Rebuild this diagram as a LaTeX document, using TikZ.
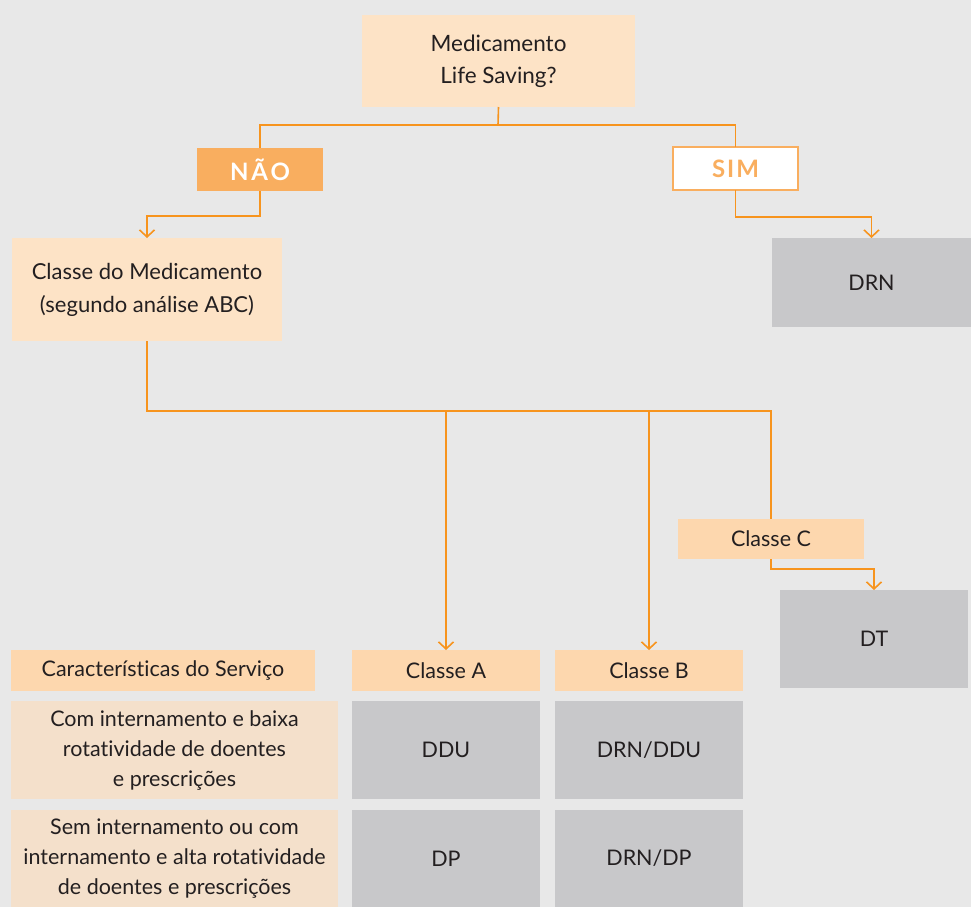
\documentclass[tikz,border=0pt]{standalone}
\usepackage{fontspec}
\setmainfont{Lato}[Ligatures={NoCommon}]
\usetikzlibrary{arrows.meta}
\definecolor{bg}{HTML}{E8E8E8}
\definecolor{ln}{HTML}{F7941E}
\definecolor{peachA}{HTML}{FDE3C6}
\definecolor{peachB}{HTML}{FDD7AE}
\definecolor{beige}{HTML}{F4E0CB}
\definecolor{naof}{HTML}{F9AE5F}
\definecolor{grayc}{HTML}{C8C8CA}
\definecolor{txt}{HTML}{231F20}
\tikzset{
  base/.style={anchor=north west, inner sep=2pt, outer sep=0pt, align=center, text=txt,
    font=\fontsize{21.5}{30}\selectfont},
  lightbox/.style={base, fill=peachA},
  midbox/.style={base, fill=peachB},
  beigebox/.style={base, fill=beige},
  graybox/.style={base, fill=grayc},
  conn/.style={draw=ln, line width=1.6pt},
  arr/.style={conn, -{Straight Barb[length=7pt,width=15pt,line width=1.6pt]}},
}
\begin{document}
\begin{tikzpicture}[x=1pt,y=-1pt]
\fill[bg] (0,0) rectangle (971,907);
\useasboundingbox (0,0) rectangle (971,907);

\node[lightbox, minimum width=273pt, minimum height=92pt, font=\fontsize{22.5}{32}\selectfont] (top) at (362,15) {Medicamento\\Life Saving?};
\node[base, fill=naof, text=white, minimum width=126pt, minimum height=43pt,
  font=\fontsize{24}{26}\selectfont\bfseries\addfontfeatures{LetterSpace=12}] (nao) at (197,148) {NÃO};
\node[base, fill=white, draw=naof, line width=1.5pt, text=naof, minimum width=125pt, minimum height=43pt,
  font=\fontsize{24}{26}\selectfont\bfseries\addfontfeatures{LetterSpace=8}] (sim) at (673,147) {SIM};
\node[lightbox, minimum width=270pt, minimum height=103pt, font=\fontsize{22}{33}\selectfont] (cm) at (12,238) {Classe do Medicamento\\(segundo análise ABC)};
\node[graybox, minimum width=199pt, minimum height=89pt] (drn) at (772,238) {DRN};
\node[midbox, minimum width=186pt, minimum height=40pt] (cc) at (678,519) {Classe C};
\node[graybox, minimum width=188pt, minimum height=98pt] (dt) at (780,590) {DT};

\node[midbox, minimum width=304pt, minimum height=41pt] (hdr) at (11,650) {Características do Serviço};
\node[midbox, minimum width=188pt, minimum height=41pt] (ca) at (352,650) {Classe A};
\node[midbox, minimum width=188pt, minimum height=41pt] (cb) at (555,650) {Classe B};

\node[beigebox, minimum width=327pt, minimum height=98pt] (r1) at (11,701) {Com internamento e baixa\\rotatividade de doentes\\e prescrições};
\node[graybox, minimum width=188pt, minimum height=98pt] (r1a) at (352,701) {DDU};
\node[graybox, minimum width=188pt, minimum height=98pt] (r1b) at (555,701) {DRN/DDU};

\node[beigebox, minimum width=327pt, minimum height=97pt] (r2) at (11,810) {Sem internamento ou com\\internamento e alta rotatividade\\de doentes e prescrições};
\node[graybox, minimum width=188pt, minimum height=97pt] (r2a) at (352,810) {DP};
\node[graybox, minimum width=188pt, minimum height=97pt] (r2b) at (555,810) {DRN/DP};

\coordinate (j1) at (498,125);
\coordinate (j2) at (147,411);
\coordinate (j3) at (771,411);

\draw[conn] (top.south) -- (j1);
\draw[conn] (nao.north) -- (nao.north |- j1) -- (sim.north |- j1) -- (sim.north);
\draw[arr] (nao.south) -- ++(0,25) -| (cm.north);
\draw[arr] (sim.south) -- ++(0,27) -| (drn.north);
\draw[conn] (cm.south) -- (j2) -- (j3) -- (cc.north);
\draw[arr] (ca.north |- j2) -- (ca.north);
\draw[arr] (cb.north |- j2) -- (cb.north);
\draw[arr] (cc.south) -- ++(0,10) -| (dt.north);
\end{tikzpicture}
\end{document}
